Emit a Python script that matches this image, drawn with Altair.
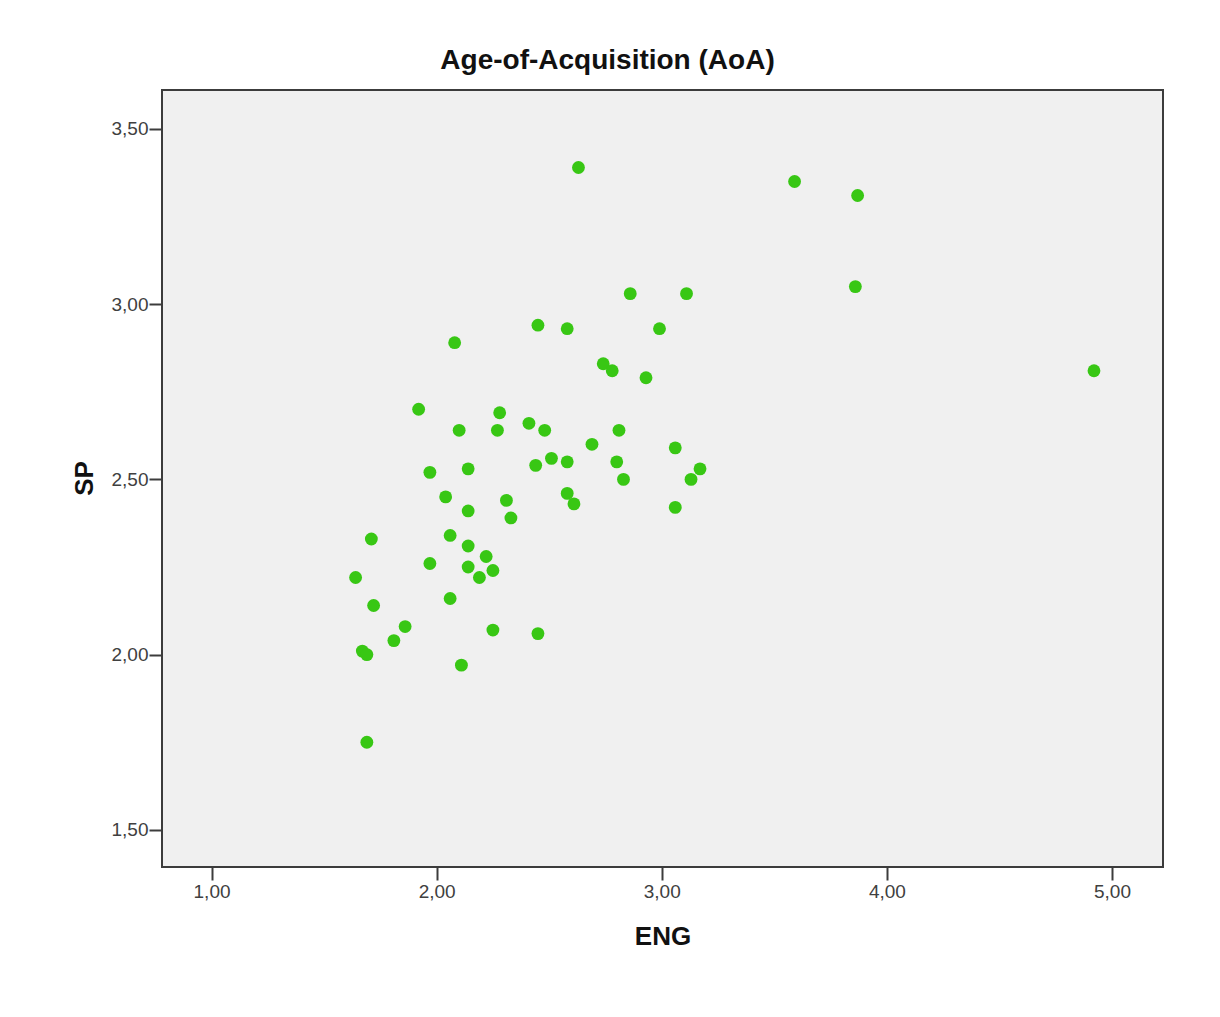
import altair as alt
import pandas as pd

eng = [2.63, 3.59, 3.87, 3.86, 4.92, 2.86, 3.11, 2.45, 2.58, 2.99,
       2.08, 2.74, 2.78, 2.93, 1.92, 2.28, 2.41, 2.10, 2.27, 2.48,
       2.81, 2.69, 3.06, 2.51, 2.44, 2.58, 2.80, 1.97, 2.14, 3.17,
       3.13, 2.83, 2.04, 2.58, 2.61, 2.31, 2.14, 2.33, 3.06, 2.06,
       1.71, 2.14, 2.22, 1.97, 2.14, 2.25, 2.19, 1.64, 1.72, 2.06,
       1.86, 1.81, 2.25, 2.45, 1.67, 1.69, 2.11, 1.69]
sp = [3.39, 3.35, 3.31, 3.05, 2.81, 3.03, 3.03, 2.94, 2.93, 2.93,
      2.89, 2.83, 2.81, 2.79, 2.70, 2.69, 2.66, 2.64, 2.64, 2.64,
      2.64, 2.60, 2.59, 2.56, 2.54, 2.55, 2.55, 2.52, 2.53, 2.53,
      2.50, 2.50, 2.45, 2.46, 2.43, 2.44, 2.41, 2.39, 2.42, 2.34,
      2.33, 2.31, 2.28, 2.26, 2.25, 2.24, 2.22, 2.22, 2.14, 2.16,
      2.08, 2.04, 2.07, 2.06, 2.01, 2.00, 1.97, 1.75]

x_ticks = [1.0, 2.0, 3.0, 4.0, 5.0]
y_ticks = [1.5, 2.0, 2.5, 3.0, 3.5]

df = pd.DataFrame({"ENG": eng, "SP": sp})

FONT = "Liberation Sans"
label_expr = "replace(format(datum.value, '.2f'), '.', ',')"

chart = alt.Chart(df).mark_circle(
    size=165, color="#38c714", opacity=1
).encode(
    x=alt.X("ENG:Q",
            scale=alt.Scale(domain=[0.780, 5.2266], nice=False, zero=False),
            axis=alt.Axis(values=x_ticks, labelExpr=label_expr, grid=False,
                          domain=False, tickSize=13, tickWidth=2, tickColor="#3c3c3c",
                          labelPadding=2, labelFontSize=19, labelColor="#404040",
                          labelFont=FONT, title="ENG", titleFont=FONT,
                          titleFontSize=26, titleFontWeight="bold", titleColor="#111111",
                          titleY=77, titleBaseline="alphabetic")),
    y=alt.Y("SP:Q",
            scale=alt.Scale(domain=[1.394, 3.611], nice=False, zero=False),
            axis=alt.Axis(values=y_ticks, labelExpr=label_expr, grid=False,
                          domain=False, tickSize=13, tickWidth=2, tickColor="#3c3c3c",
                          labelPadding=1, labelFontSize=19, labelColor="#404040",
                          labelFont=FONT, title="SP", titleFont=FONT,
                          titleFontSize=26, titleFontWeight="bold", titleColor="#111111",
                          titleX=-70, titleY=388, titleAlign="center",
                          titleBaseline="alphabetic")),
).properties(
    width=1001,
    height=777,
    title=alt.TitleParams("Age-of-Acquisition (AoA)", font=FONT, fontSize=28,
                          fontWeight="bold", color="#111111", anchor="middle",
                          dx=-55, dy=30, offset=23, baseline="alphabetic"),
    autosize=alt.AutoSizeParams(type="none"),
    padding={"left": 162, "top": 90, "right": 57, "bottom": 150},
    background="white",
).configure_view(
    fill="#f0f0f0", stroke="#3c3c3c", strokeWidth=2
)

chart.save("out.html", embed_options={"renderer": "svg", "actions": False})
